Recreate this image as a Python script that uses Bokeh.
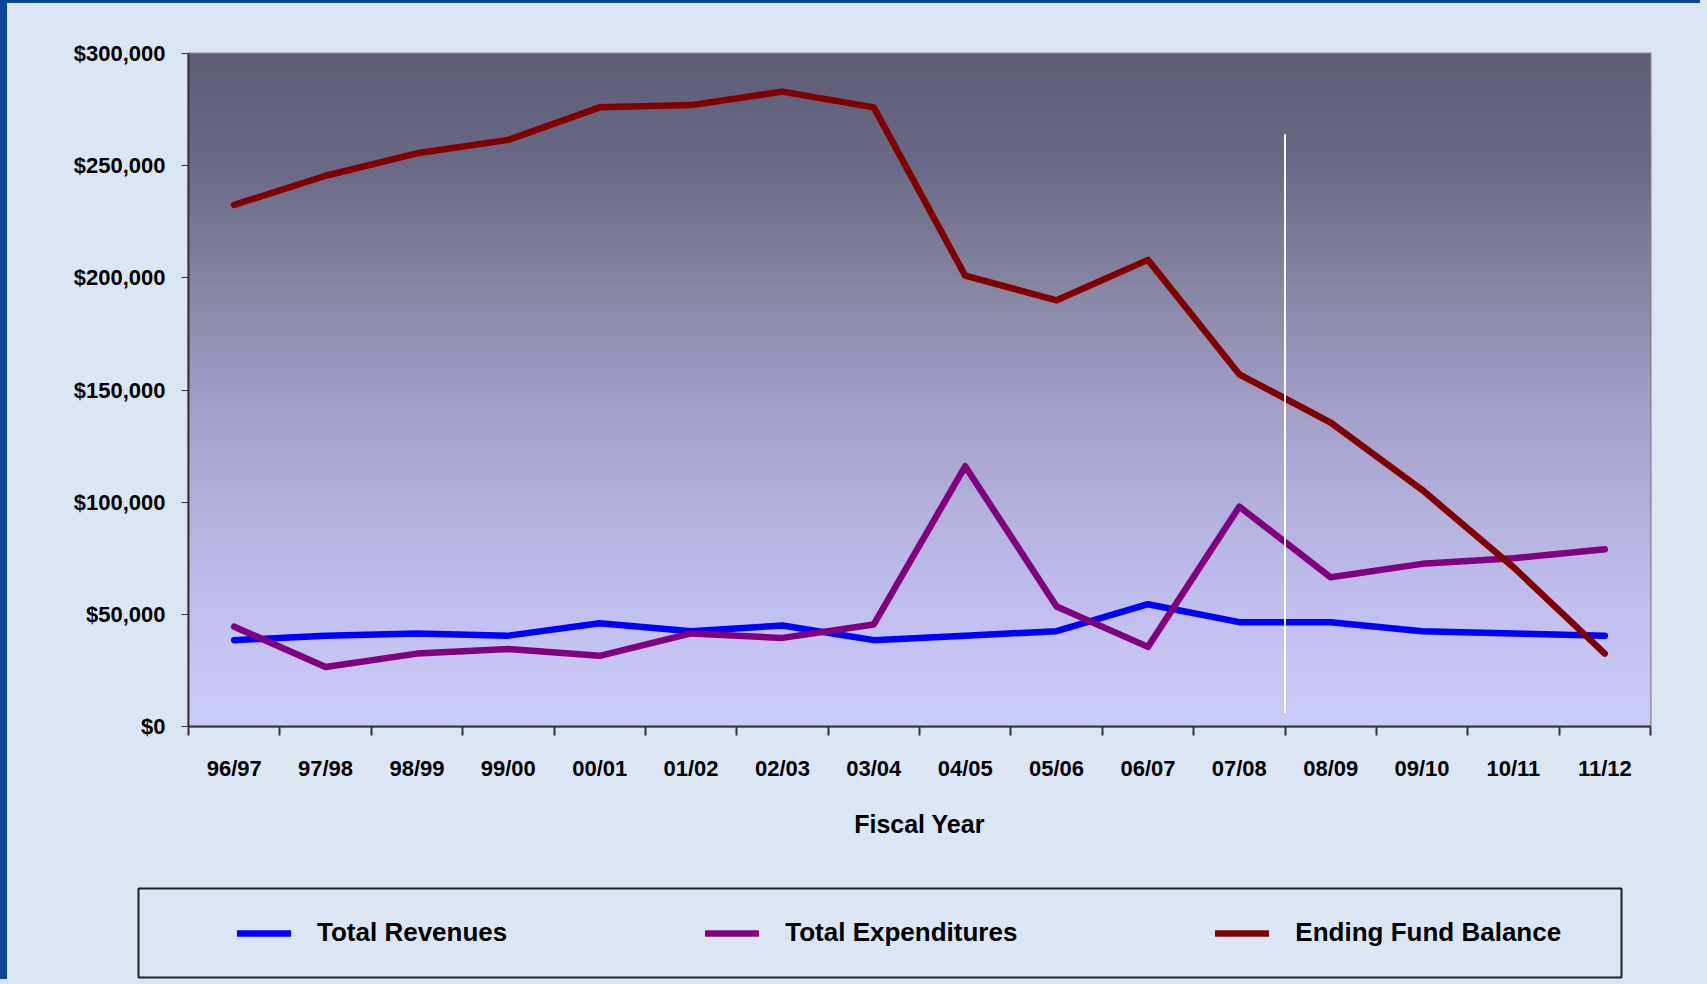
import numpy as np
from bokeh.plotting import figure
from bokeh.models import (Range1d, FixedTicker, NumeralTickFormatter, Legend, LegendItem,
                          ColumnDataSource)
from bokeh.embed import file_html
from bokeh.resources import INLINE

# ---------------- data ----------------
years = ["96/97", "97/98", "98/99", "99/00", "00/01", "01/02", "02/03", "03/04",
         "04/05", "05/06", "06/07", "07/08", "08/09", "09/10", "10/11", "11/12"]
total_revenues = [38500, 40500, 41500, 40500, 46000, 42500, 45000, 38500,
                  40500, 42500, 54500, 46500, 46500, 42500, 41500, 40500]
total_expenditures = [44500, 26500, 32500, 34500, 31500, 41500, 39500, 45500,
                      116000, 53500, 35500, 98000, 66500, 72500, 75000, 79000]
ending_fund_balance = [232500, 245500, 255500, 261500, 276000, 277000, 283000, 276000,
                       201000, 190000, 208000, 157000, 135500, 105500, 71000, 32500]
y_ticks = [0, 50000, 100000, 150000, 200000, 250000, 300000]
# divider between actual and projected years (after 07/08), vertical extent in $
divider_after = "07/08"
divider_bottom, divider_top = 6000, 264000

FONT = "Liberation Sans"
BG = "#dae6f4"
EDGE = "#0d4698"

n = len(years)
x = [i + 0.5 for i in range(n)]

W = 1700
p = figure(width=W, height=857, output_backend="svg", toolbar_location=None,
           x_range=Range1d(0, n), y_range=Range1d(0, 300000),
           min_border_left=181, min_border_right=57, min_border_top=50, min_border_bottom=134,
           border_fill_color=BG, background_fill_color="#9f9cc4",
           outline_line_color="#808080", outline_line_width=2,
           styles={"border-left": "7px solid " + EDGE, "border-top": "3px solid " + EDGE})

# gradient background of the plot area
stops_y = [0.0, 1/6, 2/6, 3/6, 4/6, 5/6, 1.0]
stops_c = [(203, 203, 249), (194, 192, 239), (178, 176, 220), (159, 156, 196),
           (133, 132, 160), (106, 106, 136), (94, 93, 119)]
GH = 300
t = np.linspace(0, 1, GH)
img = np.zeros((GH, 2), dtype=np.uint32)
view = img.view(dtype=np.uint8).reshape((GH, 2, 4))
for k in range(3):
    ch = np.interp(t, stops_y, [c[k] for c in stops_c])
    view[:, :, k] = ch[:, None].astype(np.uint8)
view[:, :, 3] = 255
p.image_rgba(image=[img], x=0, y=0, dw=n, dh=300000)

# grid
p.xgrid.visible = False
p.ygrid.ticker = FixedTicker(ticks=y_ticks)
p.ygrid.grid_line_color = "#000000"
p.ygrid.grid_line_width = 1

# lines
LW = 6.5
p.line(x, total_revenues, line_color="#0000ff", line_width=LW, line_cap="round", line_join="round")
p.line(x, total_expenditures, line_color="#800080", line_width=LW, line_cap="round", line_join="round")
p.line(x, ending_fund_balance, line_color="#800000", line_width=LW, line_cap="round", line_join="round")

# divider line
xd = years.index(divider_after) + 1
p.segment(x0=[xd], y0=[divider_bottom], x1=[xd], y1=[divider_top], line_color="white", line_width=2)

# axes
xa = p.xaxis[0]
xa.ticker = FixedTicker(ticks=x, minor_ticks=list(range(n + 1)))
xa.major_label_overrides = {v: lab for v, lab in zip(x, years)}
xa.major_tick_out = 0
xa.major_tick_in = 0
xa.minor_tick_out = 9
xa.minor_tick_in = 0
xa.minor_tick_line_color = "#333333"
xa.minor_tick_line_width = 2
xa.axis_line_color = "#333333"
xa.axis_line_width = 2
xa.major_label_standoff = 20
xa.major_label_text_font = FONT
xa.major_label_text_font_style = "bold"
xa.major_label_text_font_size = "22px"
xa.major_label_text_color = "#000000"
xa.axis_label = "Fiscal Year"
xa.axis_label_text_font = FONT
xa.axis_label_text_font_style = "bold"
xa.axis_label_text_font_size = "25px"
xa.axis_label_text_color = "#000000"
xa.axis_label_standoff = 26

ya = p.yaxis[0]
ya.ticker = FixedTicker(ticks=y_ticks)
ya.formatter = NumeralTickFormatter(format="$0,0")
ya.major_tick_out = 7
ya.major_tick_in = 0
ya.minor_tick_out = 0
ya.minor_tick_in = 0
ya.major_tick_line_color = "#333333"
ya.axis_line_color = "#333333"
ya.axis_line_width = 2
ya.major_label_standoff = 16
ya.major_label_text_font = FONT
ya.major_label_text_font_style = "bold"
ya.major_label_text_font_size = "22px"
ya.major_label_text_color = "#000000"

# ---------------- legend panel (its frame is the legend box) ----------------
lp = figure(width=W, height=122, output_backend="svg", toolbar_location=None,
            x_range=Range1d(0, 1), y_range=Range1d(0, 1),
            x_axis_location=None, y_axis_location=None,
            min_border_left=131, min_border_right=86, min_border_top=31, min_border_bottom=2,
            border_fill_color=BG, background_fill_color=BG,
            outline_line_color="#222222", outline_line_width=2,
            styles={"border-left": "7px solid " + EDGE})
lp.grid.visible = False
# legend proxies: one off-range point each, draws nothing inside the box
proxy = ColumnDataSource(data=dict(x=[-1.0], y=[-1.0]))
g1 = lp.line("x", "y", source=proxy, line_color="#0000ff", line_width=LW, line_cap="round")
g2 = lp.line("x", "y", source=proxy, line_color="#800080", line_width=LW, line_cap="round")
g3 = lp.line("x", "y", source=proxy, line_color="#800000", line_width=LW, line_cap="round")
legend = Legend(items=[LegendItem(label="Total Revenues", renderers=[g1]),
                       LegendItem(label="Total Expenditures", renderers=[g2]),
                       LegendItem(label="Ending Fund Balance", renderers=[g3])],
                orientation="horizontal", location=(99, 29),
                padding=0, margin=0, spacing=198, glyph_width=54, glyph_height=30,
                label_standoff=26, label_width=0, label_height=30,
                label_text_font=FONT, label_text_font_style="bold",
                label_text_font_size="26px", label_text_color="#000000",
                border_line_alpha=0, background_fill_alpha=0)
lp.add_layout(legend, "center")

html = file_html([p, lp], INLINE)
html = html.replace("</head>", "<style>body{background:%s;}</style></head>" % BG, 1)
open("out.html", "w").write(html)
